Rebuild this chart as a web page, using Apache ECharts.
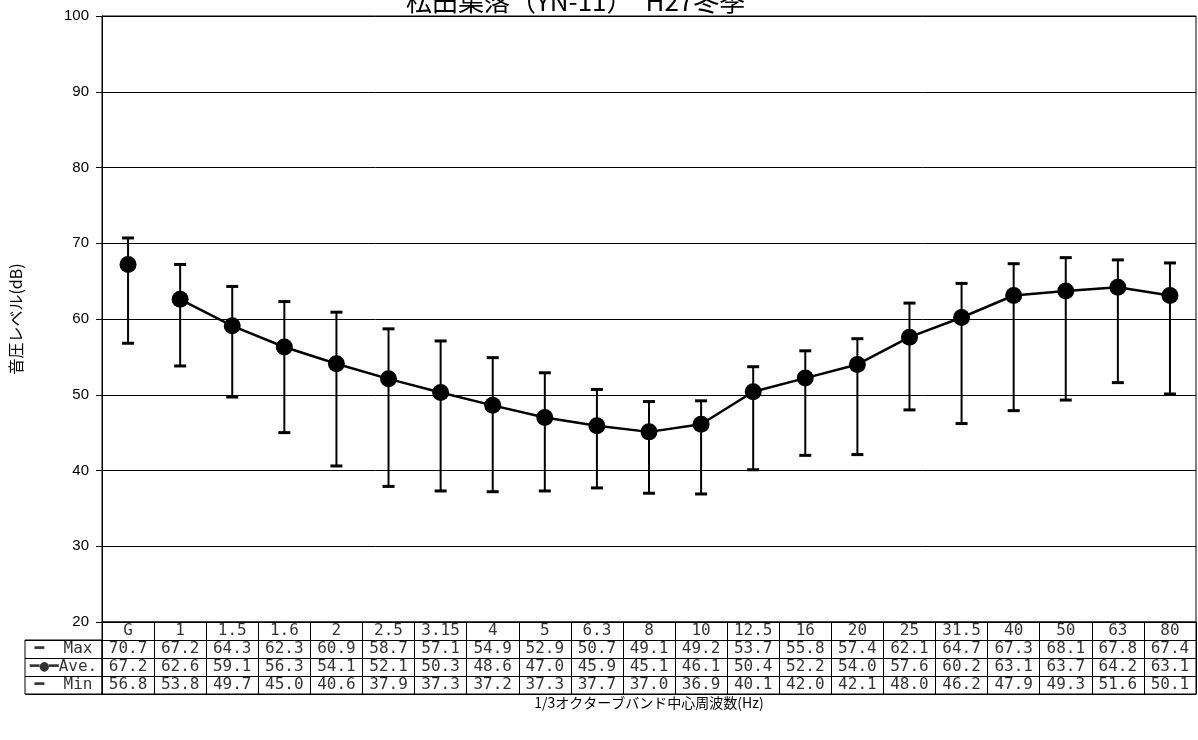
<!DOCTYPE html>
<html>
<head>
<meta charset="utf-8">
<script src="https://cdn.jsdelivr.net/npm/echarts@6/dist/echarts.min.js"></script>
<style>html,body{margin:0;padding:0;background:#fff}#c{width:1198px;height:740px}</style>
</head>
<body>
<div id="c"></div>
<script>
const titleText = '松田集落（YN-11）　H27冬季';
const categories = ['G','1','1.5','1.6','2','2.5','3.15','4','5','6.3','8','10','12.5','16','20','25','31.5','40','50','63','80'];
const maxVals = [70.7,67.2,64.3,62.3,60.9,58.7,57.1,54.9,52.9,50.7,49.1,49.2,53.7,55.8,57.4,62.1,64.7,67.3,68.1,67.8,67.4];
const aveVals = [67.2,62.6,59.1,56.3,54.1,52.1,50.3,48.6,47.0,45.9,45.1,46.1,50.4,52.2,54.0,57.6,60.2,63.1,63.7,64.2,63.1];
const minVals = [56.8,53.8,49.7,45.0,40.6,37.9,37.3,37.2,37.3,37.7,37.0,36.9,40.1,42.0,42.1,48.0,46.2,47.9,49.3,51.6,50.1];
const yTicks = {min:20, max:100, interval:10};
const rowNames = ['Min','Ave.','Max','cat'];
const headerLabels = {'Max':'━  Max','Ave.':'━●━Ave.','Min':'━  Min'};

const monoFont = 'DejaVu Sans Mono';
const jpFont = '"Noto Sans CJK JP"';

// table cell data
const tableData = [];
categories.forEach((c,i)=>{
  tableData.push([c,'cat',c]);
  tableData.push([c,'Max',maxVals[i].toFixed(1)]);
  tableData.push([c,'Ave.',aveVals[i].toFixed(1)]);
  tableData.push([c,'Min',minVals[i].toFixed(1)]);
});
const headerData = ['Max','Ave.','Min'].map(r=>['h',r,headerLabels[r]]);

const errData = categories.map((c,i)=>[i,minVals[i],maxVals[i]]);
const lineData = aveVals.map((v,i)=> i===0 ? '-' : v);

const chart = echarts.init(document.getElementById('c'), null, {renderer:'canvas'});
chart.setOption({
  animation:false,
  backgroundColor:'#fff',
  title:{text:titleText,left:401,top:-17,textStyle:{fontFamily:jpFont,fontSize:26,fontWeight:'normal',color:'#000'}},
  grid:[
    {left:102,right:2,top:16,height:606,show:true,borderColor:'#000',borderWidth:1,backgroundColor:'transparent'},
    {left:102,right:2,top:622,height:72,show:true,borderColor:'#000',borderWidth:1,backgroundColor:'transparent'},
    {left:25,width:77,top:640,height:54,show:true,borderColor:'#000',borderWidth:1,backgroundColor:'transparent'}
  ],
  xAxis:[
    {gridIndex:0,type:'category',data:categories,boundaryGap:true,
     axisLine:{lineStyle:{color:'#000',width:1}},axisTick:{show:false},axisLabel:{show:false},splitLine:{show:false}},
    {gridIndex:1,type:'category',data:categories,boundaryGap:true,
     axisLine:{show:true,lineStyle:{color:'#000'}},axisTick:{show:false},axisLabel:{show:false},
     splitLine:{show:true,interval:0,lineStyle:{color:'#000',width:1}},
     name:'1/3オクターブバンド中心周波数(Hz)',nameLocation:'middle',nameGap:2,
     nameTextStyle:{fontFamily:jpFont,fontSize:14,color:'#000',verticalAlign:'top'}},
    {gridIndex:2,type:'category',data:['h'],show:false}
  ],
  yAxis:[
    {gridIndex:0,type:'value',min:yTicks.min,max:yTicks.max,interval:yTicks.interval,
     axisLine:{show:true,lineStyle:{color:'#000'}},
     axisTick:{show:true,length:6,lineStyle:{color:'#000'}},
     axisLabel:{color:'#000',fontFamily:'Liberation Sans',fontSize:15,margin:13},
     splitLine:{show:true,lineStyle:{color:'#000',width:1}},
     name:'音圧レベル(dB)',nameLocation:'middle',nameGap:78,nameRotate:90,
     nameTextStyle:{fontFamily:jpFont,fontSize:16,color:'#000'}},
    {gridIndex:1,type:'category',data:rowNames,boundaryGap:true,
     axisLine:{show:false},axisTick:{show:false},axisLabel:{show:false},
     splitLine:{show:true,interval:0,lineStyle:{color:'#000',width:1}}},
    {gridIndex:2,type:'category',data:['Min','Ave.','Max'],boundaryGap:true,
     axisLine:{show:false},axisTick:{show:false},axisLabel:{show:false},
     splitLine:{show:true,interval:0,lineStyle:{color:'#000',width:1}}}
  ],
  series:[
    {type:'custom',xAxisIndex:0,yAxisIndex:0,silent:true,data:errData,z:3,
     renderItem:function(params,api){
       const x = api.value(0);
       const top = api.coord([x, api.value(2)]);
       const bot = api.coord([x, api.value(1)]);
       const hw = 6;
       const st = {stroke:'#000',lineWidth:2};
       const cap = {stroke:'#000',lineWidth:3};
       return {type:'group',children:[
         {type:'line',shape:{x1:top[0],y1:top[1],x2:bot[0],y2:bot[1]},style:st},
         {type:'line',shape:{x1:top[0]-hw,y1:top[1],x2:top[0]+hw,y2:top[1]},style:cap},
         {type:'line',shape:{x1:bot[0]-hw,y1:bot[1],x2:bot[0]+hw,y2:bot[1]},style:cap}
       ]};
     }},
    {type:'line',xAxisIndex:0,yAxisIndex:0,data:lineData,silent:true,z:4,
     symbol:'circle',symbolSize:17,itemStyle:{color:'#000',opacity:1},lineStyle:{color:'#000',width:2.5}},
    {type:'scatter',xAxisIndex:0,yAxisIndex:0,data:[[0,aveVals[0]]],silent:true,z:4,
     symbol:'circle',symbolSize:17,itemStyle:{color:'#000',opacity:1}},
    {type:'scatter',xAxisIndex:1,yAxisIndex:1,data:tableData,silent:true,symbolSize:1,
     itemStyle:{color:'rgba(0,0,0,0)'},
     label:{show:true,position:'inside',formatter:p=>p.value[2],color:'#000',fontFamily:monoFont,fontSize:16}},
    {type:'scatter',xAxisIndex:2,yAxisIndex:2,data:headerData,silent:true,symbolSize:1,
     itemStyle:{color:'rgba(0,0,0,0)'},
     label:{show:true,position:'inside',formatter:p=>p.value[2],color:'#000',fontFamily:monoFont,fontSize:16}}
  ]
});
</script>
</body>
</html>
